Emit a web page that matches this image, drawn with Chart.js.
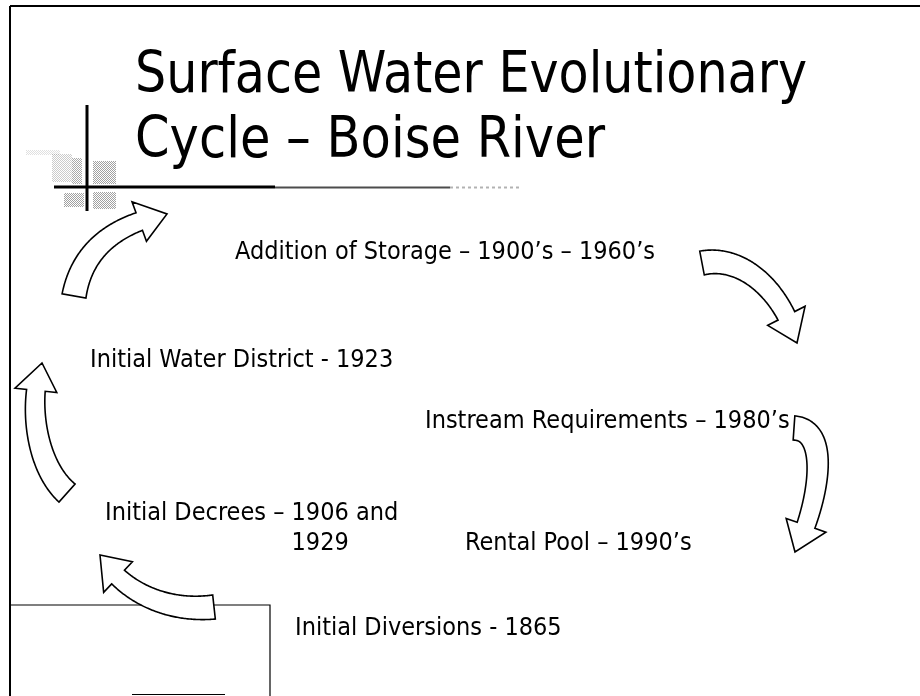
<!DOCTYPE html>
<html>
<head>
<meta charset="utf-8">
<script src="https://cdn.jsdelivr.net/npm/chart.js@4"></script>
<style>
    html, body { margin: 0; padding: 0; background: #fff; }
    #wrap { width: 920px; height: 696px; }
</style>
</head>
<body>
<div id="wrap"><canvas id="cycleChart" width="920" height="696"></canvas></div>
<script>
// --- Data (page units: x 0-920 across, y 0-696 down) ---
const titleLines = ['Surface Water Evolutionary', 'Cycle \u2013 Boise River'];

const stageNames = [
    ['Addition of Storage \u2013 1900\u2019s \u2013 1960\u2019s'],
    ['Initial Water District - 1923'],
    ['Instream Requirements \u2013 1980\u2019s'],
    ['Initial Decrees \u2013 1906 and', '1929'],
    ['Rental Pool \u2013 1990\u2019s'],
    ['Initial Diversions - 1865']
];
const stageX = [235, 90, 425, 105, 465, 295];
const stageY = [259, 367, 428, 520, 550, 635];

// curved arrows: tail -> two bend handles -> tip
const arrowTailX  = [74, 702, 794, 67, 214];
const arrowTailY  = [296, 263, 428, 493, 607];
const arrowBend1X = [82, 742, 832, 35, 170];
const arrowBend1Y = [250, 255, 430, 465, 612];
const arrowBend2X = [115, 782, 818, 28, 125];
const arrowBend2Y = [224, 290, 505, 400, 595];
const arrowTipX   = [167, 797, 795, 42, 100];
const arrowTipY   = [214, 343, 552, 363, 555];

document.addEventListener('DOMContentLoaded', () => {
    const FONT = '"DejaVu Sans Condensed", "DejaVu Sans", sans-serif';

    function ditherPattern(ctx, color) {
        const c = document.createElement('canvas');
        c.width = 2; c.height = 2;
        const g = c.getContext('2d');
        g.fillStyle = color;
        g.fillRect(0, 0, 1, 1);
        g.fillRect(1, 1, 1, 1);
        return ctx.createPattern(c, 'repeat');
    }

    // --- Slide furniture: frame, title rule, grey blocks ---
    const slidePlugin = {
        id: 'slide',
        beforeDraw(chart) {
            const ctx = chart.ctx;
            ctx.save();
            ctx.fillStyle = '#fff';
            ctx.fillRect(0, 0, chart.width, chart.height);

            ctx.strokeStyle = '#000';
            ctx.lineWidth = 2;
            ctx.beginPath();
            ctx.moveTo(10, 6); ctx.lineTo(920, 6);
            ctx.moveTo(10, 6); ctx.lineTo(10, 696);
            ctx.stroke();

            // bottom-left box
            ctx.lineWidth = 1.2;
            ctx.beginPath();
            ctx.moveTo(10, 605); ctx.lineTo(270, 605); ctx.lineTo(270, 696);
            ctx.moveTo(132, 694.5); ctx.lineTo(225, 694.5);
            ctx.stroke();

            // grey dithered blocks round the crossing
            ctx.fillStyle = ditherPattern(ctx, '#555');
            ctx.globalAlpha = 0.18;
            ctx.fillRect(26, 150, 34, 5);
            ctx.globalAlpha = 0.3;
            ctx.fillRect(52, 154, 20, 28);
            ctx.globalAlpha = 0.5;
            ctx.fillRect(72, 158, 10, 26);
            ctx.globalAlpha = 0.55;
            ctx.fillRect(93, 161, 23, 23);
            ctx.fillRect(64, 193, 20, 14);
            ctx.fillRect(93, 192, 23, 17);
            ctx.globalAlpha = 1;

            // cross lines
            ctx.lineWidth = 3;
            ctx.beginPath();
            ctx.moveTo(87, 105); ctx.lineTo(87, 211);
            ctx.moveTo(54, 187); ctx.lineTo(275, 187);
            ctx.stroke();
            ctx.lineWidth = 2;
            ctx.globalAlpha = 0.7;
            ctx.beginPath();
            ctx.moveTo(275, 187.5); ctx.lineTo(450, 187.5);
            ctx.stroke();
            ctx.globalAlpha = 0.3;
            ctx.setLineDash([3, 3]);
            ctx.beginPath();
            ctx.moveTo(450, 187.5); ctx.lineTo(520, 187.5);
            ctx.stroke();
            ctx.restore();
        }
    };

    function cubic(p0, p1, p2, p3, t) {
        const u = 1 - t;
        const a = u * u * u, b = 3 * u * u * t, c = 3 * u * t * t, d = t * t * t;
        return {
            x: a * p0.x + b * p1.x + c * p2.x + d * p3.x,
            y: a * p0.y + b * p1.y + c * p2.y + d * p3.y
        };
    }

    function drawCurvedArrow(ctx, p0, p1, p2, p3) {
        const N = 120, shaft = 22, headW = 42, headL = 28;
        const pts = [];
        for (let i = 0; i <= N; i++) pts.push(cubic(p0, p1, p2, p3, i / N));
        const len = [0];
        for (let i = 1; i <= N; i++) {
            len.push(len[i - 1] + Math.hypot(pts[i].x - pts[i - 1].x, pts[i].y - pts[i - 1].y));
        }
        const total = len[N];
        let h = 0;
        while (h < N && total - len[h + 1] >= headL) h++;

        const normalAt = (i) => {
            const a = pts[Math.max(0, i - 1)], b = pts[Math.min(N, i + 1)];
            const d = Math.hypot(b.x - a.x, b.y - a.y) || 1;
            return { x: -(b.y - a.y) / d, y: (b.x - a.x) / d };
        };
        const left = [], right = [];
        for (let i = 0; i <= h; i++) {
            const n = normalAt(i);
            const w = (shaft * (1.1 - 0.25 * i / h)) / 2;
            left.push({ x: pts[i].x + n.x * w, y: pts[i].y + n.y * w });
            right.push({ x: pts[i].x - n.x * w, y: pts[i].y - n.y * w });
        }
        const nh = normalAt(h);
        ctx.beginPath();
        ctx.moveTo(left[0].x, left[0].y);
        left.forEach(p => ctx.lineTo(p.x, p.y));
        ctx.lineTo(pts[h].x + nh.x * headW / 2, pts[h].y + nh.y * headW / 2);
        ctx.lineTo(p3.x, p3.y);
        ctx.lineTo(pts[h].x - nh.x * headW / 2, pts[h].y - nh.y * headW / 2);
        for (let i = right.length - 1; i >= 0; i--) ctx.lineTo(right[i].x, right[i].y);
        ctx.closePath();
        ctx.fillStyle = '#fff';
        ctx.fill();
        ctx.strokeStyle = '#000';
        ctx.lineWidth = 1.6;
        ctx.lineJoin = 'miter';
        ctx.stroke();
    }

    // --- Text and arrows drawn through the chart's scales ---
    const cyclePlugin = {
        id: 'cycle',
        afterDatasetsDraw(chart) {
            const ctx = chart.ctx;
            const sx = chart.scales.x, sy = chart.scales.y;
            const px = (x, y) => ({ x: sx.getPixelForValue(x), y: sy.getPixelForValue(y) });
            ctx.save();

            arrowTipX.forEach((_, i) => {
                drawCurvedArrow(ctx,
                    px(arrowTailX[i], arrowTailY[i]),
                    px(arrowBend1X[i], arrowBend1Y[i]),
                    px(arrowBend2X[i], arrowBend2Y[i]),
                    px(arrowTipX[i], arrowTipY[i]));
            });

            ctx.fillStyle = '#000';
            ctx.textBaseline = 'alphabetic';
            ctx.textAlign = 'left';

            // title
            ctx.font = '57px ' + FONT;
            titleLines.forEach((line, i) => {
                const p = px(135, 92 + i * 65);
                ctx.fillText(line, p.x, p.y, i === 0 ? 672 : 470);
            });

            // stage labels
            ctx.font = '25px ' + FONT;
            const meta = chart.getDatasetMeta(0);
            stageNames.forEach((lines, i) => {
                const el = meta.data[i];
                ctx.fillText(lines[0], el.x, el.y);
                if (lines.length > 1) {
                    // hanging indent under the date
                    const indent = ctx.measureText(lines[0].split('\u2013')[0] + '\u2013 ').width;
                    ctx.fillText(lines[1], el.x + indent, el.y + 30);
                }
            });
            ctx.restore();
        }
    };

    const ctx = document.getElementById('cycleChart');
    new Chart(ctx, {
        type: 'scatter',
        data: {
            datasets: [{
                data: stageX.map((x, i) => ({ x: x, y: stageY[i] })),
                pointRadius: 0
            }]
        },
        options: {
            responsive: false,
            animation: false,
            layout: { padding: 0 },
            scales: {
                x: { display: false, min: 0, max: 920 },
                y: { display: false, min: 0, max: 696, reverse: true }
            },
            plugins: {
                legend: { display: false },
                tooltip: { enabled: false }
            }
        },
        plugins: [slidePlugin, cyclePlugin]
    });
});
</script>
</body>
</html>
